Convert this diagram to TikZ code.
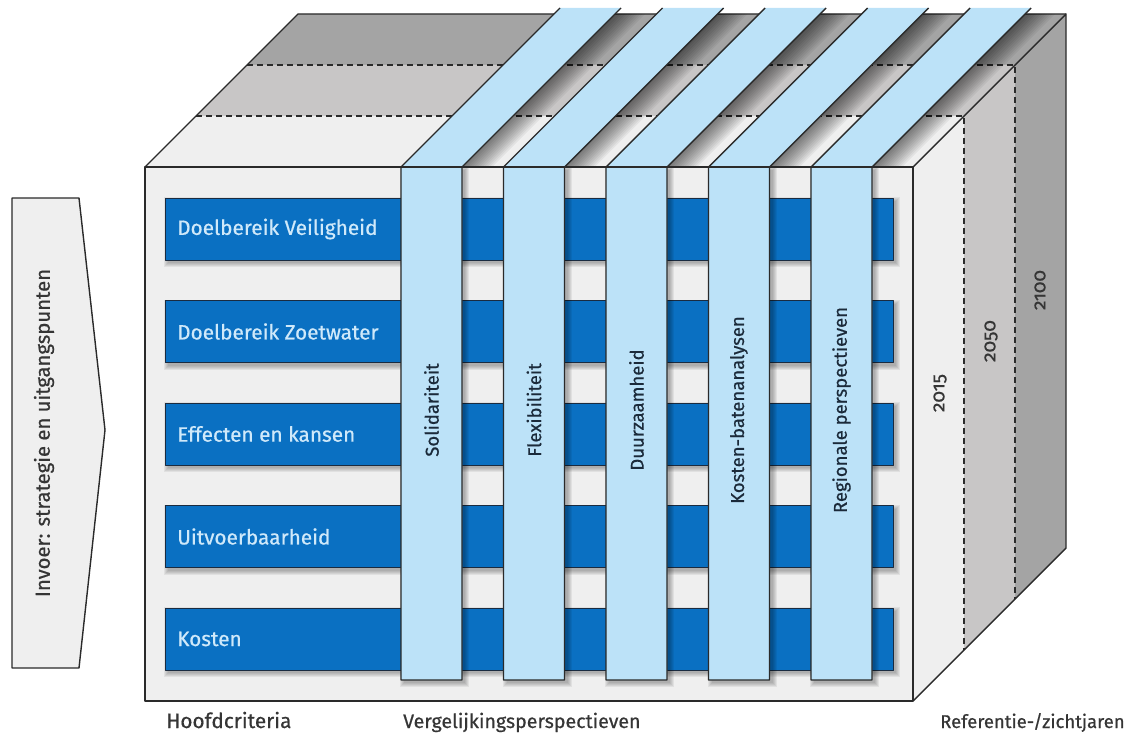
\documentclass[tikz,border=0pt]{standalone}
\usepackage{fontspec}
\setmainfont{Fira Sans}[FakeBold=0.6]
\newfontfamily\yearfont[Numbers=OldStyle,FakeBold=0.6]{Fira Sans}
\definecolor{linec}{HTML}{2A2A2A}
\definecolor{facec}{HTML}{EFEFEF}
\definecolor{midg}{HTML}{C8C6C6}
\definecolor{darkg}{HTML}{A4A4A4}
\definecolor{barblue}{HTML}{0A70C2}
\definecolor{bardark}{HTML}{1A2B40}
\definecolor{colblue}{HTML}{BCE2F8}
\definecolor{bartextc}{HTML}{CFE9FA}
\definecolor{coltextc}{HTML}{1B2A3A}
\definecolor{labelc}{HTML}{353535}
\newcommand{\dshadow}[4]{%
  \foreach \k in {0,...,4}{%
    \fill[black,opacity=0.06] ({#1+3-\k},{#2+3-\k}) rectangle ({#3+3+\k},{#4+3+\k});}}
\begin{document}
\begin{tikzpicture}[x=1pt,y=-1pt,line join=round,
  edge/.style={draw=linec,line width=1.4pt},
  dashline/.style={draw=linec,line width=1.4pt,dash pattern=on 6pt off 4pt},
  barbox/.style={fill=barblue,draw=bardark,line width=1pt},
  bartext/.style={text=bartextc,anchor=west,inner sep=0pt,font=\fontsize{20.8}{24}\selectfont},
  coltext/.style={text=coltextc,rotate=90,inner sep=0pt,font=\fontsize{18.5}{22}\selectfont},
  yeartext/.style={text=labelc,rotate=90,inner sep=0pt,font=\yearfont\fontsize{19}{22}\selectfont},
  bottomtext/.style={text=labelc,anchor=base west,inner sep=0pt,font=\fontsize{20.8}{24}\selectfont},
  arrowbox/.style={fill=facec,draw=linec,line width=1.4pt}]
\useasboundingbox (0,0) rectangle (1131,733);

% left input arrow
\draw[arrowbox] (12,198) -- (79,198) -- (105,430) -- (79,668) -- (12,668) -- cycle;
\node[coltext,text=labelc,font=\fontsize{20.3}{24}\selectfont] (invoer) at (44,433) {Invoer: strategie en uitgangspunten};

% top face bands
\fill[darkg] (298,14) -- (1066,14) -- (1015,65) -- (247,65) -- cycle;
\fill[midg] (247,65) -- (1015,65) -- (964,116) -- (196,116) -- cycle;
\fill[facec] (196,116) -- (964,116) -- (913,167) -- (145,167) -- cycle;
% right face bands
\fill[facec] (913,167) -- (964,116) -- (964,650) -- (913,701) -- cycle;
\fill[midg] (964,116) -- (1015,65) -- (1015,599) -- (964,650) -- cycle;
\fill[darkg] (1015,65) -- (1066,14) -- (1066,548) -- (1015,599) -- cycle;
% front face
\fill[facec] (145,167) rectangle (913,701);

% dashed separators
\draw[dashline] (247,65) -- (1015,65) -- (1015,599);
\draw[dashline] (196,116) -- (964,116) -- (964,650);
% edges lying under the strips
\draw[edge] (145,167) -- (298,14) -- (1066,14);

% shadows of the strips on the top face
\begin{scope}
\clip (145,167) -- (298,14) -- (1066,14) -- (913,167) -- cycle;
\foreach \a in {401,503.5,606,708.5,811}{
  \foreach \k in {1,...,12}{
    \fill[black,opacity=0.05] ({\a+61},167) -- ({\a+61+2.5*\k},167) -- ({\a+61+2.5*\k+153},14) -- ({\a+61+153},14) -- cycle;}}
\end{scope}

% criteria bars
\foreach \t in {198,300.5,403,505.5,608}{
  \dshadow{165}{\t}{893}{\t+62}
  \draw[barbox] (165,\t) rectangle (893,\t+62);}
\node[bartext] (c1) at (177,229) {Doelbereik Veiligheid};
\node[bartext] (c2) at (177,331.5) {Doelbereik Zoetwater};
\node[bartext] (c3) at (177,434) {Effecten en kansen};
\node[bartext] (c4) at (177,536.5) {Uitvoerbaarheid};
\node[bartext] (c5) at (177,639) {Kosten};

% perspective columns
\foreach \a in {401,503.5,606,708.5,811}{
  \dshadow{\a}{167}{\a+61}{680}
  \fill[colblue] ({\a+159},8) -- (\a,167) -- (\a,680) -- ({\a+61},680) -- ({\a+61},167) -- ({\a+220},8) -- cycle;
  \draw[edge] ({\a+159},8) -- (\a,167) -- (\a,680) -- ({\a+61},680) -- ({\a+61},167) -- ({\a+220},8);}
\node[coltext] (p1) at (431.5,410) {Solidariteit};
\node[coltext] (p2) at (534,410) {Flexibiliteit};
\node[coltext] (p3) at (636.5,410) {Duurzaamheid};
\node[coltext] (p4) at (739,410) {Kosten-batenanalysen};
\node[coltext] (p5) at (841.5,410) {Regionale perspectieven};

% cube outline on top
\draw[edge] (145,167) rectangle (913,701);
\draw[edge] (913,167) -- (1066,14) -- (1066,548) -- (913,701);

% years
\node[yeartext] (y1) at (940,393) {2015};
\node[yeartext] (y2) at (991,341) {2050};
\node[yeartext] (y3) at (1040,290) {2100};

% bottom labels
\node[bottomtext] (l1) at (166,728) {Hoofdcriteria};
\node[bottomtext,font=\fontsize{19.6}{24}\selectfont] (l2) at (403,728) {Vergelijkingsperspectieven};
\node[bottomtext,font=\fontsize{18.5}{22}\selectfont] (l3) at (940,728) {Referentie-/zichtjaren};
\end{tikzpicture}
\end{document}
